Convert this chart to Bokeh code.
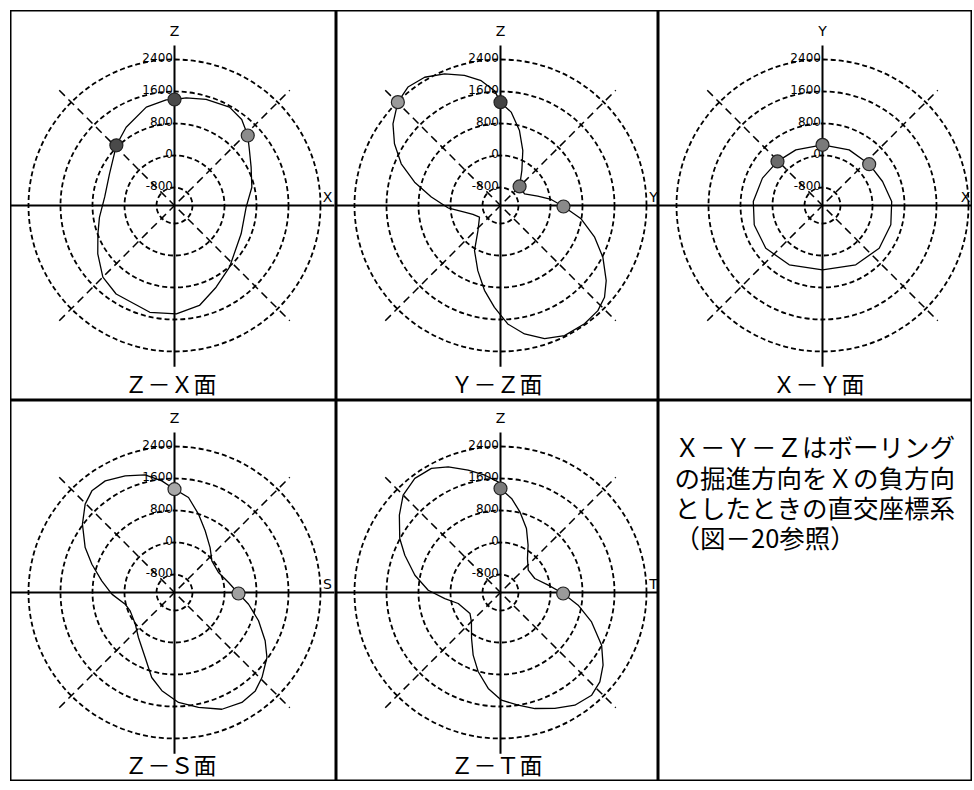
import numpy as np
from bokeh.plotting import figure
from bokeh.layouts import column, row
from bokeh.models import Range1d
from bokeh.embed import file_html
from bokeh.resources import INLINE
from bokeh.core.properties import value

# ---- radial scale shared by all five polar diagrams ----
RING_VALUES = [-800, 0, 800, 1600, 2400]
RING_LABELS = ["-800", "0", "800", "1600", "2400"]
POLE_VALUE = -1250          # value that sits at the pole
UNITS_PER_PX = 25           # data units per screen pixel

# ---- Z-X plane (angle in degrees from +X, counter-clockwise) ----
zx_angle = [-171, -159.7, -147.8, -135, -123.4, -103, -89, -76, -63, -48.3, -23, -1.3,
            13.3, 26.6, 36.3, 43.7, 52, 60.8, 73.4, 83.8, 90, 94.5, 106, 121.7, 134, 154, 173]
zx_value = [650, 792, 1017, 1283, 1400, 1490, 1458, 1325, 1042, 817, 560, 542,
            737, 892, 1075, 1283, 1480, 1567, 1517, 1458, 1400, 1400, 1308, 1050, 842, 558, 508]
zx_mark_angle = [90, 43.7, 134]
zx_mark_value = [1400, 1283, 842]
zx_mark_color = ["#4a4a4a", "#8c8c8c", "#4a4a4a"]

# ---- Y-Z plane ----
yz_angle = [-177.5, -169.5, -162, -151, -132, -120, -109.2, -100.7, -93.4, -86.5, -79.4,
            -71.7, -63.8, -54.6, -47.2, -41.4, -35.4, -26.8, -18.6, -9.4, -0.9, 6.8, 14,
            25.9, 45, 58.6, 67.9, 75.8, 83.5, 90, 93, 98.8, 105.5, 113, 120.6, 128, 134.8,
            142.8, 149.8, 157.2, 164.8, 173]
yz_value = [67, -333, -525, -650, -408, 50, 475, 908, 1300, 1717, 2017,
            2258, 2375, 2375, 2333, 2217, 1992, 1617, 1233, 792, 325, 25, -290,
            -583, -575, -225, 233, 683, 1100, 1333, 1625, 1908, 2125, 2325, 2475, 2508, 2392,
            2125, 1817, 1442, 975, 492]
yz_mark_angle = [90, 134.8, 45, -0.9]
yz_mark_value = [1333, 2392, -575, 325]
yz_mark_color = ["#444444", "#9a9a9a", "#777777", "#8a8a8a"]

# ---- X-Y plane ----
xy_angle = [-164, -143, -119.3, -90, -60.7, -37, -15.8, 3.3, 21.8, 41.5,
            64.4, 90, 115.6, 135.6, 155.5, 176.7]
xy_value = [525, 525, 450, 358, 450, 525, 525, 483, 367, 308,
            292, 267, 292, 325, 400, 483]
xy_mark_angle = [90, 135.6, 41.5]
xy_mark_value = [267, 325, 308]
xy_mark_color = ["#7a7a7a", "#6a6a6a", "#8a8a8a"]

# ---- Z-S plane ----
zs_angle = [-178.5, -166.7, -157.5, -141.2, -128.7, -114.3, -105, -97.3, -87.9, -78.2,
            -67.9, -58.5, -50.6, -44.2, -35.1, -28, -18.6, -9, -0.9, 10.5, 24.4, 40.3,
            51.6, 63.6, 73, 81.6, 90, 96.5, 104, 112.9, 121.8, 129.1, 135.3, 143.4,
            153.3, 161.1, 170.9]
zs_value = [317, 17, -50, 8, 192, 533, 950, 1225, 1500, 1683,
            1900, 1975, 1933, 1800, 1575, 1317, 967, 625, 350, 125, -42, -25,
            183, 475, 800, 1150, 1333, 1558, 1783, 1917, 2033, 2025, 1892, 1617,
            1250, 933, 592]
zs_mark_angle = [90, -0.9]
zs_mark_value = [1333, 350]
zs_mark_color = ["#a8a8a8", "#a0a0a0"]

# ---- Z-T plane ----
zt_angle = [-173.8, -165.4, -145.6, -134.7, -122.2, -113.6, -105.7, -97.3, -89.5, -81.1,
            -73.5, -64.9, -56.6, -48.4, -42, -35.3, -27.5, -17.9, -9.3, -0.9, 8.7, 22.2,
            38.9, 51.5, 59.7, 67.9, 76.5, 83.3, 90, 91.2, 97.6, 104.8, 112.6, 119.1,
            126.9, 135, 142.6, 151.8, 158.7, 168.6, 178.2]
zt_value = [150, -158, -325, -217, 108, 458, 808, 1167, 1442, 1600,
            1775, 1950, 2125, 2183, 2092, 1892, 1600, 1142, 717, 317, -42, -325,
            -358, -167, 117, 475, 825, 1117, 1350, 1517, 1708, 1917, 2150, 2300,
            2317, 2192, 1933, 1608, 1317, 933, 558]
zt_mark_angle = [90, -0.9]
zt_mark_value = [1350, 317]
zt_mark_color = ["#7a7a7a", "#9a9a9a"]

NOTE_LINES = ["Ｘ－Ｙ－Ｚはボーリング", "の掘進方向をＸの負方向",
              "としたときの直交座標系", "（図－20参照）"]

SANS = value("DejaVu Sans")
JP = value("Noto Sans CJK JP")
COL_W = [326, 322, 314]
ROW_H = [390, 381]
ROW_CY = [195, 192]   # pole distance from top of each row
POLE_X = 164          # pole distance from left edge of each panel


def to_xy(angles, values):
    a = np.radians(np.asarray(angles, dtype=float))
    r = np.asarray(values, dtype=float) - POLE_VALUE
    return r * np.cos(a), r * np.sin(a)


def polar_panel(title, h_name, v_name, angles, values, mk_a, mk_v, mk_c,
                width, height, cy, h_label_px=153):
    u = UNITS_PER_PX
    p = figure(width=width, height=height,
               x_range=Range1d(-POLE_X * u, (width - POLE_X) * u),
               y_range=Range1d(-(height - cy) * u, cy * u),
               output_backend="svg", toolbar_location=None, min_border=0)
    p.axis.visible = False
    p.grid.visible = False
    p.outline_line_color = "black"
    p.outline_line_width = 2
    p.background_fill_color = "white"

    # dashed value rings
    radii = [v - POLE_VALUE for v in RING_VALUES]
    p.circle(x=[0] * len(radii), y=[0] * len(radii), radius=radii,
             fill_color=None, line_color="black", line_width=1.8, line_dash="5 3")

    # dashed diagonals at 45 and 135 degrees
    d = 4075 * np.cos(np.pi / 4)
    p.segment(x0=[-d, -d], y0=[-d, d], x1=[d, d], y1=[d, -d],
              line_color="black", line_width=1.5, line_dash="8 5")

    # solid axes through the pole
    p.segment(x0=[-4100, 0], y0=[0, -4030], x1=[4000, 0], y1=[0, 4000],
              line_color="black", line_width=2)

    # ring value labels along the vertical axis
    p.text(x=[-40] * len(radii), y=radii, text=RING_LABELS, text_align="right",
           text_baseline="middle", y_offset=-2, text_font=SANS, text_font_size="12px",
           text_color="black")

    # axis names
    p.text(x=[0], y=[175 * u], text=[v_name], text_align="center", text_baseline="middle",
           text_font=SANS, text_font_size="14px", text_color="black")
    p.text(x=[h_label_px * u], y=[9 * u], text=[h_name], text_align="center",
           text_baseline="middle", text_font=SANS, text_font_size="14px", text_color="black")

    # measured profile
    xs, ys = to_xy(list(angles) + [angles[0]], list(values) + [values[0]])
    p.line(xs, ys, line_color="black", line_width=1.3)

    mx, my = to_xy(mk_a, mk_v)
    p.scatter(mx, my, size=13, marker="circle", fill_color=mk_c, line_color="#222222",
              line_width=1.2)

    # panel title
    p.text(x=[-4 * u], y=[-(height - cy - 18) * u], text=[title], text_align="center",
           text_baseline="middle", text_font=JP, text_font_size="23px", text_color="black")
    return p


p1 = polar_panel("Ｚ－Ｘ面", "X", "Z", zx_angle, zx_value, zx_mark_angle, zx_mark_value,
                 zx_mark_color, COL_W[0], ROW_H[0], ROW_CY[0])
p2 = polar_panel("Ｙ－Ｚ面", "Y", "Z", yz_angle, yz_value, yz_mark_angle, yz_mark_value,
                 yz_mark_color, COL_W[1], ROW_H[0], ROW_CY[0])
p3 = polar_panel("Ｘ－Ｙ面", "X", "Y", xy_angle, xy_value, xy_mark_angle, xy_mark_value,
                 xy_mark_color, COL_W[2], ROW_H[0], ROW_CY[0], h_label_px=143)
p4 = polar_panel("Ｚ－Ｓ面", "S", "Z", zs_angle, zs_value, zs_mark_angle, zs_mark_value,
                 zs_mark_color, COL_W[0], ROW_H[1], ROW_CY[1])
p5 = polar_panel("Ｚ－Ｔ面", "T", "Z", zt_angle, zt_value, zt_mark_angle, zt_mark_value,
                 zt_mark_color, COL_W[1], ROW_H[1], ROW_CY[1])

# explanatory note panel
nw, nh = COL_W[2], ROW_H[1]
note = figure(width=nw, height=nh, x_range=Range1d(0, nw), y_range=Range1d(nh, 0),
              output_backend="svg", toolbar_location=None, min_border=0)
note.axis.visible = False
note.grid.visible = False
note.outline_line_color = "black"
note.outline_line_width = 2
note.text(x=[16] * 4, y=[45, 76, 106, 136], text=NOTE_LINES, text_baseline="middle",
          text_font=JP, text_font_size="25.5px", text_color="black")

layout = column(row(p1, p2, p3), row(p4, p5, note), margin=(10, 0, 0, 10))

with open("out.html", "w") as f:
    f.write(file_html(layout, INLINE))
